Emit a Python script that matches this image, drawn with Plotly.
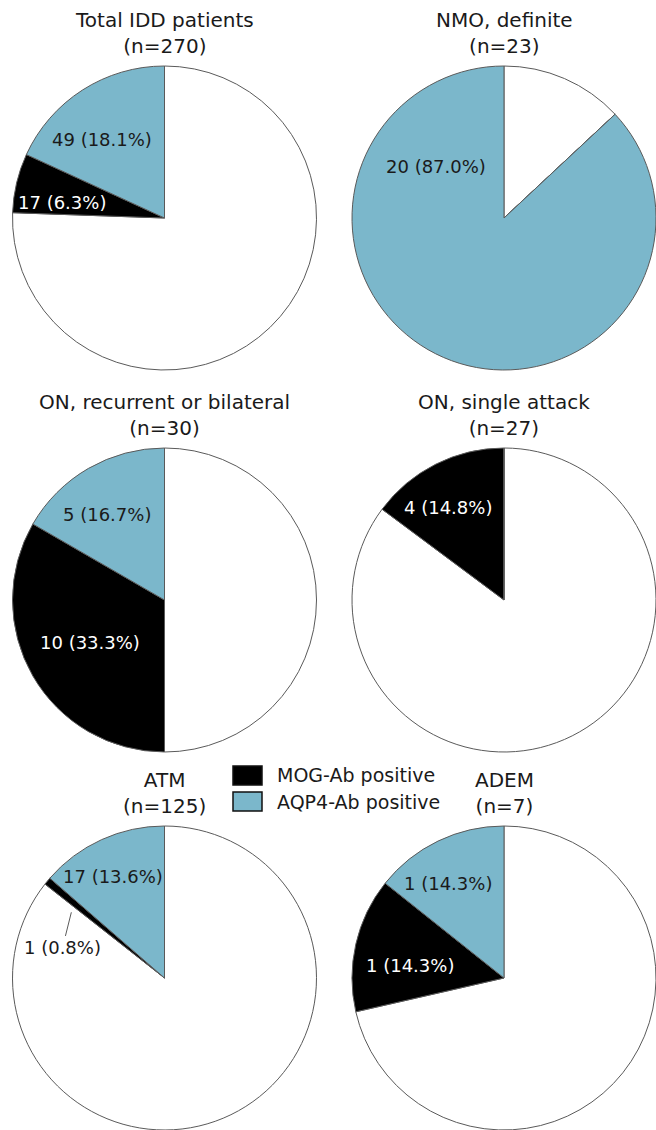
import math
import plotly.graph_objects as go

# ---------------- data ----------------
titles = ["Total IDD patients", "NMO, definite", "ON, recurrent or bilateral",
          "ON, single attack", "ATM", "ADEM"]
n_total = [270, 23, 30, 27, 125, 7]
aqp4_pos = [49, 20, 5, 0, 17, 1]
mog_pos = [17, 0, 10, 4, 1, 1]
categories = ["AQP4-Ab positive", "MOG-Ab positive", "Antibody negative"]
legend_labels = ["MOG-Ab positive", "AQP4-Ab positive"]

# ---------------- layout / style ----------------
W, H = 656, 1130
R = 152
COL_X = [164.5, 504]
ROW_Y = [218, 600, 978]
BLUE = "#7bb7cb"
BLACK = "#000000"
WHITE = "#ffffff"
EDGE = "#5a5a5a"
FONT = "DejaVu Sans"
TXT = "#1a1a1a"

# label placement per (chart, category index): angle from 12 o'clock (ccw, deg), radius fraction
LABEL_PLACE = {
    (0, 0): (38.5, 0.66), (0, 1): (81.6, 0.68),
    (1, 0): (53.0, 0.56),
    (2, 0): (34.0, 0.68), (2, 1): (119.6, 0.56),
    (3, 1): (31.0, 0.71),
    (4, 0): (27.0, 0.75), (4, 1): (73.6, 0.70),
    (5, 0): (30.8, 0.72), (5, 1): (82.7, 0.625),
}
LEADER = {(4, 1): (54.8, 0.75)}  # leader-line tip for the label placed outside its slice


def px_to_paper(x, y):
    return x / W, 1 - y / H


def polar(cx, cy, ang, rf):
    a = math.radians(ang)
    return cx - rf * R * math.sin(a), cy - rf * R * math.cos(a)


fig = go.Figure()
annotations = []
colors = [BLUE, BLACK, WHITE]

for i, title in enumerate(titles):
    cx = COL_X[i % 2]
    cy = ROW_Y[i // 2]
    neg = n_total[i] - aqp4_pos[i] - mog_pos[i]
    vals = [aqp4_pos[i], mog_pos[i], neg]
    # slices run counter-clockwise from 12 o'clock: AQP4, MOG, negative
    # (equivalently clockwise from 12 o'clock in reversed order)
    fig.add_trace(go.Pie(
        labels=categories[::-1],
        values=vals[::-1],
        sort=False,
        direction="clockwise",
        rotation=0,
        marker=dict(colors=colors[::-1], line=dict(color=EDGE, width=1)),
        textinfo="none",
        hoverinfo="label+value+percent",
        showlegend=False,
        domain=dict(x=[(cx - R) / W, (cx + R) / W],
                    y=[1 - (cy + R) / H, 1 - (cy - R) / H]),
    ))

    # title
    tx, ty = px_to_paper(cx, cy - R - 33)
    annotations.append(dict(
        x=tx, y=ty, xref="paper", yref="paper", xanchor="center", yanchor="middle",
        text=f"{title}<br>(n={n_total[i]})", showarrow=False,
        font=dict(family=FONT, size=20, color=TXT)))

    # slice labels
    for k in (0, 1):
        v = vals[k]
        if v == 0:
            continue
        pct = v / n_total[i] * 100
        label = f"{v} ({pct:.1f}%)"
        ang, rf = LABEL_PLACE[(i, k)]
        lx, ly = polar(cx, cy, ang, rf)
        if (i, k) in LEADER:
            tang, trf = LEADER[(i, k)]
            tipx, tipy = polar(cx, cy, tang, trf)
            px, py = px_to_paper(tipx, tipy)
            annotations.append(dict(
                x=px, y=py, xref="paper", yref="paper",
                ax=lx - tipx, ay=ly - tipy,
                text=label, showarrow=True, arrowhead=0, arrowwidth=1,
                arrowcolor=EDGE, standoff=0, startstandoff=0,
                font=dict(family=FONT, size=18, color=TXT)))
        else:
            color = WHITE if k == 1 else TXT
            ax_, ay_ = px_to_paper(lx, ly)
            annotations.append(dict(
                x=ax_, y=ay_, xref="paper", yref="paper",
                xanchor="center", yanchor="middle", text=label, showarrow=False,
                font=dict(family=FONT, size=18, color=color)))

# legend (drawn as boxes + text, matching the figure's large swatches)
shapes = []
LEG_X0, LEG_W, LEG_H = 233, 29, 19
LEG_Y = [766, 792]
LEG_COL = [BLACK, BLUE]
for j, lab in enumerate(legend_labels):
    x0, y1 = px_to_paper(LEG_X0, LEG_Y[j])
    x1, y0 = px_to_paper(LEG_X0 + LEG_W, LEG_Y[j] + LEG_H)
    shapes.append(dict(type="rect", xref="paper", yref="paper",
                       x0=x0, x1=x1, y0=y0, y1=y1,
                       fillcolor=LEG_COL[j], line=dict(color="#111111", width=1.5)))
    lx, ly = px_to_paper(LEG_X0 + LEG_W + 13, LEG_Y[j] + LEG_H / 2)
    annotations.append(dict(
        x=lx, y=ly, xref="paper", yref="paper", xanchor="left", yanchor="middle",
        text=lab, showarrow=False, font=dict(family=FONT, size=19, color=TXT)))

fig.update_layout(
    width=W, height=H,
    margin=dict(l=0, r=0, t=0, b=0, pad=0),
    paper_bgcolor="white",
    plot_bgcolor="white",
    annotations=annotations,
    shapes=shapes,
    font=dict(family=FONT),
)

fig.write_html("out.html",
               config={"displayModeBar": False},
               post_script="document.body.style.margin='0';document.body.style.overflow='hidden';")
